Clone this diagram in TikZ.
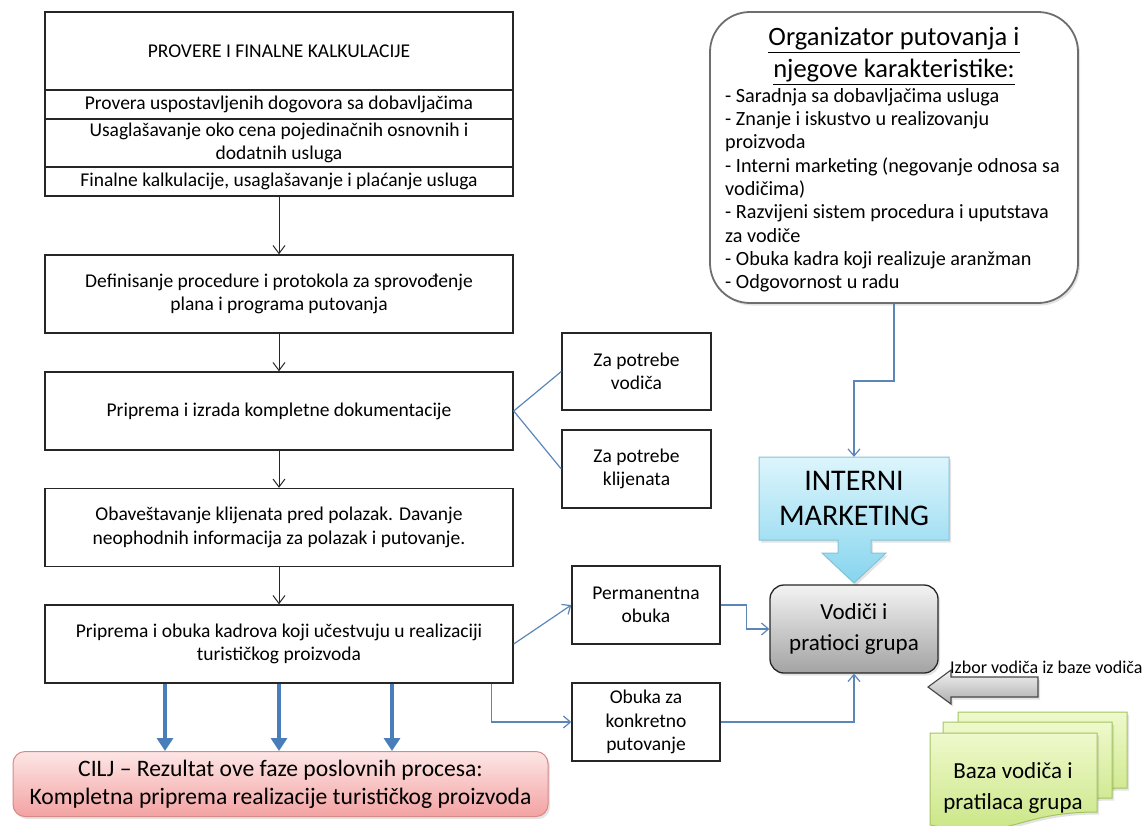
\documentclass[tikz,border=0pt]{standalone}
\usepackage{fontspec}
\setmainfont{Carlito}
\usetikzlibrary{arrows.meta,shadows,calc}
\definecolor{connblue}{HTML}{5B87B8}
\definecolor{thkblue}{HTML}{4A7EBB}
\definecolor{boxline}{HTML}{262626}
\definecolor{cyantop}{HTML}{DDF5FC}
\definecolor{cyanbot}{HTML}{86D5EE}
\definecolor{cyanline}{HTML}{82C3D6}
\definecolor{graytop}{HTML}{F3F3F3}
\definecolor{graybot}{HTML}{A3A3A3}
\definecolor{pinktop}{HTML}{FDE6E6}
\definecolor{pinkbot}{HTML}{F3A2A2}
\definecolor{pinkline}{HTML}{D98888}
\definecolor{greentop}{HTML}{EFF9CC}
\definecolor{greenbot}{HTML}{C6E47E}
\definecolor{greenline}{HTML}{A2C55E}
\definecolor{orgline}{HTML}{6E6E6E}
\tikzset{
  box/.style={draw=boxline, line width=1.4pt, fill=white, inner sep=2pt, align=center,
    font=\fontsize{19.5}{23.5}\selectfont},
  sidebox/.style={box, minimum width=148pt, minimum height=78pt},
  mainbox/.style={box, minimum width=468pt, minimum height=78pt},
  blk/.style={draw=boxline, line width=1pt, -{Straight Barb[length=8pt,width=12pt]}},
  conn/.style={draw=connblue, line width=1.2pt},
  connarr/.style={conn, -{Straight Barb[length=7pt,width=12pt]}},
  thk/.style={draw=thkblue, line width=3.6pt, -{Triangle[length=13pt,width=16pt]}},
  softshadow/.style={drop shadow={shadow xshift=2pt, shadow yshift=-2.5pt, opacity=0.22}},
}
\begin{document}
\begin{tikzpicture}[x=1pt,y=-1pt]
\useasboundingbox (0,0) rectangle (1146,825);

% ---- left column
\node[box, minimum width=468pt, minimum height=78pt] (hdr) at (279,51) {PROVERE I FINALNE KALKULACIJE};
\node[box, minimum width=468pt, minimum height=29pt] (r1) at (279,104.5) {Provera uspostavljenih dogovora sa dobavljačima};
\node[box, minimum width=468pt, minimum height=48pt] (r2) at (279,143) {Usaglašavanje oko cena pojedinačnih osnovnih i\\dodatnih usluga};
\node[box, minimum width=468pt, minimum height=29pt] (r3) at (279,181.5) {Finalne kalkulacije, usaglašavanje i plaćanje usluga};

\node[mainbox] (b2) at (279,294) {Definisanje procedure i protokola za sprovođenje\\plana i programa putovanja};
\node[mainbox] (b3) at (279,411) {Priprema i izrada kompletne dokumentacije};
\node[mainbox] (b4) at (279,527.5) {Obaveštavanje klijenata pred polazak. Davanje\\neophodnih informacija za polazak i putovanje.};
\node[mainbox] (b5) at (279,644) {Priprema i obuka kadrova koji učestvuju u realizaciji\\turističkog proizvoda};

\draw[blk] (r3.south) -- (b2.north);
\draw[blk] (b2.south) -- (b3.north);
\draw[blk] (b3.south) -- (b4.north);
\draw[blk] (b4.south) -- (b5.north);

% ---- side boxes
\node[sidebox, minimum width=149pt, minimum height=77pt] (zpv) at (636.5,371.5) {Za potrebe\\vodiča};
\node[sidebox, minimum width=149pt, minimum height=78pt] (zpk) at (636.5,469) {Za potrebe\\klijenata};
\node[sidebox] (perm) at (646,605) {Permanentna\\obuka};
\node[sidebox] (obuka) at (646,722) {Obuka za\\konkretno\\putovanje};

\draw[conn] (b3.east) -- (zpv.west);
\draw[conn] (b3.east) -- (zpk.west);
\draw[connarr] (b5.east) -- (perm.west);
\draw[connarr] ($(b5.south east)+(-22,0)$) |- (obuka.west);

% ---- goal box
\node[draw=pinkline, line width=1pt, rounded corners=12pt, top color=pinktop, bottom color=pinkbot,
  softshadow, minimum width=535pt, minimum height=65pt, align=center,
  font=\fontsize{23.6}{28}\selectfont] (cilj) at (280.5,784)
  {CILJ – Rezultat ove faze poslovnih procesa:\\Kompletna priprema realizacije turističkog proizvoda};

\draw[thk] (b5.south -| 165,0) -- (cilj.north -| 165,0);
\draw[thk] (b5.south -| 279,0) -- (cilj.north -| 279,0);
\draw[thk] (b5.south -| 392,0) -- (cilj.north -| 392,0);

% ---- organizer box
\node[draw=orgline, line width=1.8pt, fill=white, rounded corners=40pt, softshadow,
  minimum width=368pt, minimum height=291pt] (org) at (894,157.5) {};
\node[align=center, font=\fontsize{26.5}{32}\selectfont] (orgt) at (894,56)
  {\underline{Organizator putovanja i}\\\underline{njegove karakteristike:}};
\node[anchor=north west, inner sep=0pt, align=left, font=\fontsize{20.2}{23.3}\selectfont] (orgl) at (725,88)
  {- Saradnja sa dobavljačima usluga\\
   - Znanje i iskustvo u realizovanju\\
   proizvoda\\
   - Interni marketing (negovanje odnosa sa\\
   vodičima)\\
   - Razvijeni sistem procedura i uputstava\\
   za vodiče\\
   - Obuka kadra koji realizuje aranžman\\
   - Odgovornost u radu};

% ---- INTERNI MARKETING block arrow
\path[draw=cyanline, line width=1pt, top color=cyantop, bottom color=cyanbot, softshadow]
  (759,457) -- (949,457) -- (949,540) -- (871,540) -- (871,553) -- (886,553) -- (854,583)
  -- (822,553) -- (838,553) -- (838,540) -- (759,540) -- cycle;
\node[align=center, inner sep=0pt, minimum width=190pt, minimum height=83pt,
  font=\fontsize{30}{35}\selectfont] (intm) at (854,498.5) {INTERNI\\MARKETING};

\draw[connarr] (org.south) -- ++(0,77) -| (intm.north);

% ---- guides box
\node[draw=boxline, line width=1.3pt, rounded corners=14pt, top color=graytop, bottom color=graybot,
  softshadow, minimum width=168pt, minimum height=88pt, align=center,
  font=\fontsize{23}{31}\selectfont] (vod) at (854,629) {Vodiči i\\pratioci grupa};

\draw[connarr] (perm.east) -- ++(26,0) |- (vod.west);
\draw[connarr] (obuka.east) -| (vod.south);

% ---- selection arrow and label
\path[draw=boxline!85, line width=1.1pt, top color=graytop, bottom color=graybot!90, softshadow]
  (928,687) -- (951,670) -- (951,677) -- (1038,677) -- (1038,697) -- (951,697) -- (951,704) -- cycle;
\node[anchor=west, inner sep=0pt, font=\fontsize{18}{21}\selectfont] (izbor) at (950,667) {Izbor vodiča iz baze vodiča};

% ---- document stack
\path[draw=greenline, line width=1pt, top color=greentop, bottom color=greenbot, softshadow]
  (958,712) -- (1127,712) -- (1127,788) .. controls (1042.5,788) and (1042.5,817) .. (958,800.5) -- cycle;
\path[draw=greenline, line width=1pt, top color=greentop, bottom color=greenbot, softshadow]
  (943,722) -- (1112,722) -- (1112,798) .. controls (1027.5,798) and (1027.5,827) .. (943,810.5) -- cycle;
\path[draw=greenline, line width=1pt, top color=greentop, bottom color=greenbot, softshadow]
  (930,733) -- (1097,733) -- (1097,812) .. controls (1013.5,812) and (1013.5,842) .. (930,825) -- cycle;
\node[align=center, font=\fontsize{23}{31}\selectfont] (baza) at (1013,788) {Baza vodiča i\\pratilaca grupa};
\end{tikzpicture}
\end{document}
